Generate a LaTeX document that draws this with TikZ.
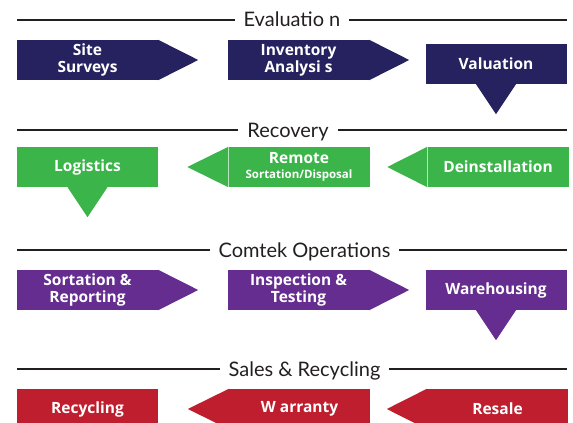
\documentclass[tikz,border=0pt]{standalone}
\usepackage{fontspec}
\setmainfont{Open Sans}
\newfontfamily\headfont{Lato}
\usetikzlibrary{calc}
\definecolor{evalblue}{RGB}{38, 34, 96}
\definecolor{recgreen}{RGB}{59, 181, 74}
\definecolor{opspurple}{RGB}{102, 45, 145}
\definecolor{salesred}{RGB}{190, 30, 45}
\definecolor{rulegray}{RGB}{35, 31, 32}
\tikzset{
  stage/.style={fill=#1, text=white, minimum width=141pt, minimum height=40pt,
    inner sep=0pt, align=center, font=\bfseries\fontsize{15.5}{17}\selectfont},
  heading/.style={font=\headfont\fontsize{20}{22}\selectfont, text=rulegray, fill=white,
    inner xsep=9pt, inner ysep=0pt, text height=14pt, text depth=0pt},
  rule/.style={draw=rulegray, line width=1.6pt},
}

\begin{document}
\begin{tikzpicture}[x=1pt, y=-1pt]
  \clip (0,0) rectangle (573,423);
  \fill[white] (0,0) rectangle (573,423);

  % Evaluation
  \draw[rule] (17,20) -- (567,20);
  \node[heading] (hEval) at (292,20) {Evaluatio n};
  \node[stage=evalblue] (survey) at (87.5,60) {Site\\Surveys};
  \fill[evalblue] (survey.north east) -- ($(survey.east)+(40,0)$) -- (survey.south east) -- cycle;
  \node[stage=evalblue] (inventory) at (298.5,60) {Inventory\\Analysi s};
  \fill[evalblue] (inventory.north east) -- ($(inventory.east)+(40,0)$) -- (inventory.south east) -- cycle;
  \node[stage=evalblue] (valuation) at (496,64) {Valuation};
  \fill[evalblue] ($(valuation.south)+(-20,0)$) -- ($(valuation.south)+(0,30)$) -- ($(valuation.south)+(20,0)$) -- cycle;

  % Recovery
  \draw[rule] (17,130) -- (567,130);
  \node[heading] (hRec) at (288,130) {Recovery};
  \node[stage=recgreen] (logistics) at (87.5,167) {Logistics};
  \fill[recgreen] ($(logistics.south)+(-20,0)$) -- ($(logistics.south)+(0,30)$) -- ($(logistics.south)+(20,0)$) -- cycle;
  \node[stage=recgreen] (remote) at (299,167) {Remote\\[-2pt]{\fontsize{11.5}{12}\selectfont Sortation/Disposal}};
  \fill[recgreen] (remote.north west) -- ($(remote.west)+(-41,0)$) -- (remote.south west) -- cycle;
  \node[stage=recgreen] (deinstall) at (498,167) {Deinstallation};
  \fill[recgreen] (deinstall.north west) -- ($(deinstall.west)+(-40,0)$) -- (deinstall.south west) -- cycle;

  % Comtek Operations
  \draw[rule] (17,250) -- (567,250);
  \node[heading] (hOps) at (304.5,250) {Comtek Operations};
  \node[stage=opspurple] (sorting) at (87.5,290) {Sortation \&\\Reporting};
  \fill[opspurple] (sorting.north east) -- ($(sorting.east)+(40,0)$) -- (sorting.south east) -- cycle;
  \node[stage=opspurple] (testing) at (298.5,290) {Inspection \&\\Testing};
  \fill[opspurple] (testing.north east) -- ($(testing.east)+(40,0)$) -- (testing.south east) -- cycle;
  \node[stage=opspurple] (warehouse) at (496,290) {Warehousing};
  \fill[opspurple] ($(warehouse.south)+(-20,0)$) -- ($(warehouse.south)+(0,30)$) -- ($(warehouse.south)+(20,0)$) -- cycle;

  % Sales & Recycling
  \draw[rule] (17,369) -- (567,369);
  \node[heading] (hSales) at (304.5,369) {Sales \& Recycling};
  \node[stage=salesred] (recycle) at (87.5,409) {Recycling};
  \node[stage=salesred] (warranty) at (299.5,409) {W arranty};
  \fill[salesred] (warranty.north west) -- ($(warranty.west)+(-41,0)$) -- (warranty.south west) -- cycle;
  \node[stage=salesred] (resale) at (497.5,409) {Resale};
  \fill[salesred] (resale.north west) -- ($(resale.west)+(-40,0)$) -- (resale.south west) -- cycle;
\end{tikzpicture}
\end{document}
